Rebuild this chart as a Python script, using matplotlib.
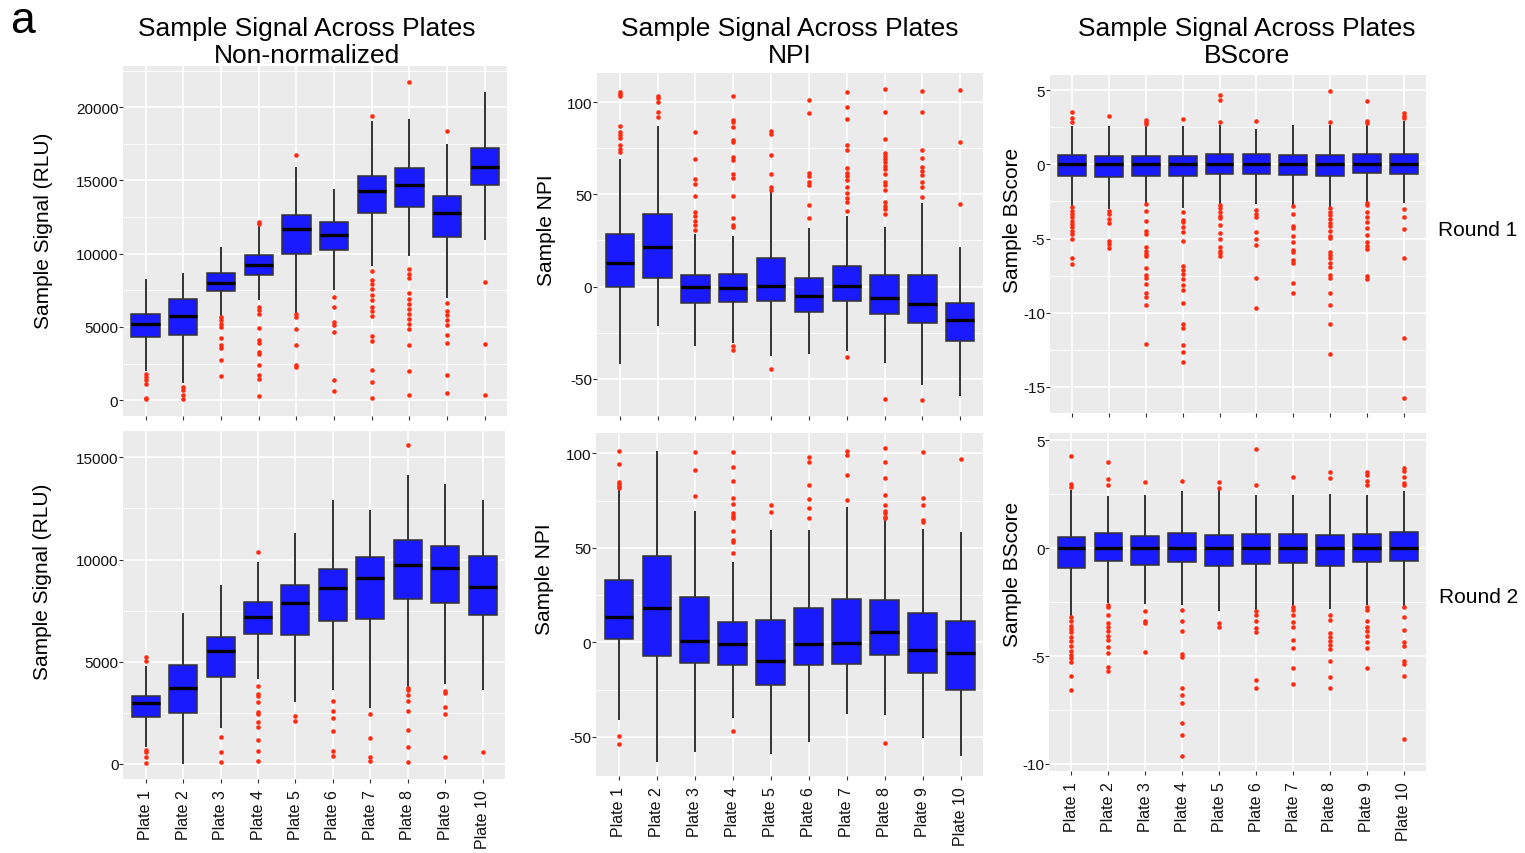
import matplotlib
matplotlib.use("Agg")
import matplotlib.pyplot as plt
from matplotlib.ticker import FixedLocator

plt.rcParams["font.family"] = ["Liberation Sans", "DejaVu Sans"]

PLATES = ["Plate 1", "Plate 2", "Plate 3", "Plate 4", "Plate 5",
          "Plate 6", "Plate 7", "Plate 8", "Plate 9", "Plate 10"]

# ---------------- Round 1, non-normalized signal (RLU) ----------------
RAW1_LO = [2050, 1250, 5800, 6900, 6000, 7600, 9200, 9900, 7050, 11000]
RAW1_Q1 = [4320, 4480, 7480, 8520, 10000, 10270, 12770, 13160, 11160, 14700]
RAW1_MED = [5180, 5750, 8020, 9200, 11660, 11250, 14250, 14700, 12800, 15890]
RAW1_Q3 = [5910, 6930, 8680, 9890, 12660, 12140, 15320, 15860, 13930, 17230]
RAW1_HI = [8230, 8640, 10390, 11820, 15840, 14320, 18980, 19140, 17430, 20950]
RAW1_OUT = [
    [1820, 1590, 1360, 1140, 160, 70],
    [910, 680, 340, 110],
    [5680, 5450, 5230, 5000, 4250, 3800, 3570, 2770, 1640],
    [12160, 12000, 6360, 6140, 5910, 4930, 4090, 3910, 3300, 3140, 2430, 1750, 1480, 300],
    [16730, 5910, 5680, 4890, 3750, 2430, 2270],
    [7050, 6360, 5340, 5110, 4660, 1360, 640],
    [19410, 8800, 8180, 7950, 7610, 7160, 6820, 6360, 6070, 5730, 4390, 4020, 2050, 1250, 180],
    [21700, 8980, 8640, 8340, 7320, 6890, 6590, 6200, 5910, 5570, 5230, 4840, 3750, 1980, 390],
    [18390, 6660, 6090, 5800, 5450, 5110, 4430, 3910, 1700, 500],
    [8070, 3860, 340],
]

# ---------------- Round 1, NPI ----------------
NPI1_LO = [-41.4, -20.8, -31.6, -30.2, -37.1, -36.0, -34.7, -40.7, -52.8, -58.8]
NPI1_Q1 = [0.0, 4.9, -9.0, -8.5, -8.1, -13.9, -7.8, -15.0, -19.7, -29.3]
NPI1_MED = [12.8, 21.7, -0.5, -0.9, 0.5, -5.1, 0.2, -6.0, -9.4, -18.1]
NPI1_Q3 = [28.6, 39.4, 6.3, 6.9, 15.4, 4.5, 11.0, 6.3, 6.0, -8.9]
NPI1_HI = [68.9, 86.8, 28.0, 27.1, 51.2, 31.3, 37.6, 31.6, 44.7, 20.8]
NPI1_OUT = [
    [105.4, 104.5, 103.3, 87.3, 83.7, 82.3, 80.5, 76.9, 74.7, 72.9],
    [103.6, 102.2, 100.4, 94.9, 91.9],
    [83.7, 69.3, 58.4, 55.7, 49.4, 40.7, 38.5, 35.8, 33.5, 30.9],
    [103.3, 90.4, 89.2, 86.4, 79.6, 78.7, 70.2, 68.7, 61.1, 58.8, 49.4, 37.3, 33.6, 32.2,
     -32.4, -34.7],
    [84.6, 82.8, 71.6, 61.1, 53.9, 52.4, -44.7],
    [101.4, 94.2, 61.5, 60.2, 57.0, 55.2, 44.3, 37.4],
    [105.4, 97.3, 91.0, 76.9, 74.3, 64.2, 61.7, 60.2, 58.0, 53.9, 50.8, 47.9, 45.8, 41.2,
     -38.3],
    [107.2, 94.6, 80.1, 72.5, 71.1, 69.3, 67.5, 65.3, 63.8, 61.1, 57.0, 55.2, 52.4, 45.8,
     43.9, 42.1, 39.4, -60.9],
    [106.3, 94.9, 74.3, 69.6, 65.1, 62.9, 60.6, 57.0, 53.9, 48.5, -61.5],
    [106.9, 78.3, 44.7],
]

# ---------------- Round 1, BScore ----------------
BS1_LO = [-2.79, -2.97, -2.61, -2.85, -2.61, -2.63, -2.74, -2.85, -2.52, -2.56]
BS1_Q1 = [-0.76, -0.83, -0.76, -0.79, -0.65, -0.67, -0.72, -0.76, -0.61, -0.67]
BS1_MED = [0.0, 0.0, 0.0, 0.0, 0.0, 0.0, 0.0, 0.0, 0.0, 0.0]
BS1_Q3 = [0.63, 0.58, 0.54, 0.58, 0.67, 0.67, 0.63, 0.63, 0.72, 0.72]
BS1_HI = [2.54, 2.54, 2.60, 2.54, 2.60, 2.31, 2.60, 2.60, 2.60, 2.83]
BS1_OUT = [
    [3.55, 3.10, 2.88, -2.90, -3.12, -3.35, -3.57, -3.80, -4.02, -4.25, -4.47, -4.70,
     -5.03, -6.31, -6.72],
    [3.28, -3.12, -3.35, -3.69, -3.96, -5.15, -5.37, -5.64],
    [3.00, 2.85, 2.70, -2.67, -3.12, -3.80, -4.47, -4.70, -5.60, -5.82, -6.04, -6.20,
     -7.01, -7.46, -7.69, -8.07, -8.70, -8.92, -9.46, -12.13],
    [3.06, -3.24, -3.73, -3.91, -4.25, -4.54, -5.19, -6.83, -7.12, -7.39, -7.73, -8.13,
     -8.45, -9.37, -10.76, -11.03, -12.16, -12.67, -13.35],
    [4.67, 4.34, 2.88, -2.72, -2.94, -3.24, -3.46, -3.64, -4.07, -4.63, -5.03, -5.60,
     -5.82, -6.00, -6.20],
    [2.92, -3.08, -3.35, -3.57, -4.58, -5.03, -5.44, -7.66, -9.66],
    [-2.83, -3.35, -4.13, -4.31, -4.81, -5.26, -5.75, -5.93, -6.45, -6.65, -8.02, -8.70],
    [4.94, 2.88, -2.97, -3.19, -3.42, -3.69, -3.96, -4.13, -4.47, -4.81, -4.97, -5.89,
     -6.11, -6.34, -6.65, -6.94, -7.46, -7.69, -8.70, -9.48, -10.76, -12.81],
    [4.25, 2.94, 2.79, -2.61, -2.72, -3.19, -3.53, -3.87, -4.29, -4.74, -5.26, -5.48,
     -5.71, -7.55, -7.73],
    [3.46, 3.28, 3.15, -3.01, -3.57, -4.36, -6.34, -11.71, -15.75],
]

# ---------------- Round 2, non-normalized signal (RLU) ----------------
RAW2_LO = [900, 30, 1830, 4210, 3070, 3670, 2800, 3830, 3980, 3670]
RAW2_Q1 = [2320, 2510, 4270, 6360, 6330, 7010, 7090, 8090, 7860, 7290]
RAW2_MED = [2970, 3720, 5540, 7210, 7860, 8590, 9100, 9730, 9590, 8670]
RAW2_Q3 = [3340, 4860, 6230, 7920, 8760, 9540, 10110, 10970, 10660, 10170]
RAW2_HI = [4730, 7340, 8720, 9820, 11250, 12880, 12390, 14100, 13660, 12880]
RAW2_OUT = [
    [5220, 5060, 690, 570, 330, 30],
    [],
    [1340, 570, 80],
    [10370, 3830, 3420, 3340, 3020, 2530, 2450, 2040, 1830, 1170, 650, 130],
    [2330, 2090],
    [3070, 2610, 2230, 1600, 650, 410],
    [2450, 1270, 360, 160],
    [15620, 3720, 3620, 3390, 3070, 2580, 1660, 850, 110],
    [3590, 3490, 2770, 2450, 330],
    [570],
]

# ---------------- Round 2, NPI ----------------
NPI2_LO = [-40.6, -63.0, -57.7, -39.4, -58.8, -52.1, -37.2, -37.9, -49.9, -59.5]
NPI2_Q1 = [1.8, -7.1, -11.1, -11.8, -22.6, -12.2, -11.5, -6.5, -16.1, -25.1]
NPI2_MED = [13.6, 18.2, 0.7, -1.1, -9.9, -0.7, -0.4, 5.5, -4.1, -5.8]
NPI2_Q3 = [33.2, 45.5, 24.2, 10.6, 11.8, 18.2, 22.8, 22.4, 15.5, 11.5]
NPI2_HI = [79.9, 100.6, 69.2, 42.0, 59.1, 58.8, 71.1, 65.6, 59.6, 57.9]
NPI2_OUT = [
    [101.5, 94.4, 84.7, 83.8, 82.6, 81.5, -49.8, -53.8],
    [],
    [100.6, 91.4, 77.6],
    [100.6, 93.0, 85.6, 76.4, 73.2, 68.3, 67.1, 65.8, 58.8, 54.2, 53.3, 47.3, -47.1],
    [72.9, 69.2],
    [98.3, 95.3, 83.5, 75.9, 71.1, 65.8],
    [101.5, 99.2, 88.8, 75.3],
    [102.7, 95.3, 87.0, 78.0, 72.9, 69.7, 68.3, 66.5, 65.8, -53.1],
    [100.6, 76.4, 72.9, 64.8, 63.5],
    [97.1],
]

# ---------------- Round 2, BScore ----------------
BS2_LO = [-3.12, -2.50, -2.55, -2.58, -2.86, -2.81, -2.66, -2.77, -2.58, -2.66]
BS2_Q1 = [-0.93, -0.60, -0.77, -0.65, -0.80, -0.73, -0.70, -0.80, -0.65, -0.57]
BS2_MED = [0.0, 0.0, 0.0, 0.0, 0.0, 0.0, 0.0, 0.0, 0.0, 0.0]
BS2_Q3 = [0.51, 0.71, 0.57, 0.70, 0.63, 0.66, 0.68, 0.63, 0.68, 0.74]
BS2_HI = [2.67, 2.36, 2.44, 2.63, 2.75, 2.40, 2.40, 2.47, 2.44, 2.63]
BS2_OUT = [
    [4.30, 2.98, 2.86, -3.20, -3.35, -3.59, -3.74, -3.90, -4.13, -4.31, -4.51, -4.78,
     -4.94, -5.09, -5.25, -5.90, -6.55],
    [3.99, 3.21, 2.91, -2.61, -2.74, -3.08, -3.48, -3.66, -3.85, -4.05, -4.25, -4.59,
     -4.87, -5.52, -5.67],
    [3.06, -2.92, -3.35, -3.48, -4.82],
    [3.14, -2.86, -3.35, -3.82, -4.90, -5.05, -6.48, -6.79, -7.19, -8.11, -8.66, -9.61],
    [3.06, 2.80, -3.48, -3.66],
    [4.61, 2.95, -2.89, -3.08, -3.35, -3.69, -3.90, -6.09, -6.49],
    [3.29, -2.74, -2.86, -3.08, -3.43, -3.66, -4.25, -4.64, -5.55, -6.29],
    [3.52, 3.26, -3.08, -3.32, -3.94, -4.10, -4.28, -4.47, -4.67, -5.21, -5.95, -6.48],
    [3.52, 3.40, 3.14, 2.91, -2.70, -2.86, -3.38, -3.63, -3.85, -4.05, -4.36, -4.62,
     -5.56],
    [3.71, 3.60, 3.29, 3.01, 2.91, -2.74, -3.17, -3.79, -4.36, -4.51, -5.24, -5.36,
     -5.90, -8.86],
]

W, H = 1525, 854
fig = plt.figure(figsize=(W / 100, H / 100), dpi=100)

BOX_FILL = "#1a1aff"
EDGE = "#333333"
OUTLIER = "#ff2a12"
PANEL_BG = "#ebebeb"
TEXT = "#111111"


def px_rect(left, top, right, bottom):
    return [left / W, 1 - bottom / H, (right - left) / W, (bottom - top) / H]


def draw_panel(rect, lo, q1, med, q3, hi, out, ylim, yticks, ylabel, label_xy,
               show_xlabels):
    ax = fig.add_axes(px_rect(*rect))
    positions = list(range(1, len(PLATES) + 1))
    stats = []
    for i in range(len(PLATES)):
        stats.append({"whislo": lo[i], "q1": q1[i], "med": med[i], "q3": q3[i],
                      "whishi": hi[i], "fliers": out[i]})
    ax.bxp(stats, positions=positions, widths=0.75, patch_artist=True,
           showcaps=False, showfliers=True,
           boxprops=dict(facecolor=BOX_FILL, edgecolor=EDGE, linewidth=1.1),
           medianprops=dict(color="black", linewidth=2.4, solid_capstyle="butt"),
           whiskerprops=dict(color=EDGE, linewidth=1.4),
           flierprops=dict(marker="o", markersize=3.3, markerfacecolor=OUTLIER,
                           markeredgewidth=0, linestyle="none"))
    ax.set_xlim(0.4, len(PLATES) + 0.6)
    ax.set_ylim(*ylim)
    ax.set_facecolor(PANEL_BG)
    for s in ax.spines.values():
        s.set_visible(False)

    ax.set_xticks(positions)
    if show_xlabels:
        ax.set_xticklabels(PLATES, rotation=90, ha="center", va="top",
                           fontsize=11.5, color=TEXT)
    else:
        ax.set_xticklabels([])
    ax.set_yticks(yticks)
    ax.set_yticklabels([str(v) for v in yticks], fontsize=11, color=TEXT)
    step = yticks[1] - yticks[0]
    minors = [yticks[0] - step / 2] + [v + step / 2 for v in yticks]
    ax.yaxis.set_minor_locator(FixedLocator(minors))

    ax.tick_params(axis="y", which="major", length=2.6, width=0.8, color=EDGE, pad=0.8)
    ax.tick_params(axis="x", which="major", length=2.6, width=0.8, color=EDGE, pad=4.5)
    ax.tick_params(which="minor", length=0)
    ax.set_axisbelow(True)
    ax.grid(which="major", color="white", linewidth=1.2)
    ax.grid(which="minor", axis="y", color="white", linewidth=0.6)

    # label centre given in pixels, converted to axes fractions
    lx, ly = label_xy
    ax.set_ylabel(ylabel, fontsize=15, color="black", va="center")
    ax.yaxis.set_label_coords((lx - rect[0]) / (rect[2] - rect[0]),
                              (rect[3] - ly) / (rect[3] - rect[1]))
    return ax


draw_panel((123, 67, 507.5, 416.5), RAW1_LO, RAW1_Q1, RAW1_MED, RAW1_Q3, RAW1_HI,
           RAW1_OUT, (-1043, 22815), [0, 5000, 10000, 15000, 20000],
           "Sample Signal (RLU)", (43, 231), False)
draw_panel((597, 74, 983, 416.5), NPI1_LO, NPI1_Q1, NPI1_MED, NPI1_Q3, NPI1_HI,
           NPI1_OUT, (-70, 115.9), [-50, 0, 50, 100], "Sample NPI", (547, 230), False)
draw_panel((1050, 76, 1426, 414), BS1_LO, BS1_Q1, BS1_MED, BS1_Q3, BS1_HI,
           BS1_OUT, (-16.76, 6.02), [-15, -10, -5, 0, 5], "Sample BScore",
           (1012, 220), False)
draw_panel((123.3, 431.7, 505, 780), RAW2_LO, RAW2_Q1, RAW2_MED, RAW2_Q3, RAW2_HI,
           RAW2_OUT, (-734, 16305), [0, 5000, 10000, 15000],
           "Sample Signal (RLU)", (43, 582), True)
draw_panel((596, 434, 983.3, 777.3), NPI2_LO, NPI2_Q1, NPI2_MED, NPI2_Q3, NPI2_HI,
           NPI2_OUT, (-70.9, 110.8), [-50, 0, 50, 100], "Sample NPI", (545, 579), True)
draw_panel((1049.3, 434.3, 1426, 772.3), BS2_LO, BS2_Q1, BS2_MED, BS2_Q3, BS2_HI,
           BS2_OUT, (-10.34, 5.33), [-10, -5, 0, 5], "Sample BScore", (1012, 574), True)

# Column titles
for cx, sub in [(306.5, "Non-normalized"), (790, "NPI"), (1247, "BScore")]:
    fig.text(cx / W, 1 - 36 / H, "Sample Signal Across Plates", ha="center",
             va="baseline", fontsize=19, color="black")
    fig.text(cx / W, 1 - 63 / H, sub, ha="center", va="baseline", fontsize=19,
             color="black")

# Row labels and panel letter
fig.text(1438 / W, 1 - 230 / H, "Round 1", ha="left", va="center", fontsize=15)
fig.text(1439 / W, 1 - 598 / H, "Round 2", ha="left", va="center", fontsize=15)
fig.text(10 / W, 1 - 33 / H, "a", ha="left", va="baseline", fontsize=32)

fig.savefig("out.png", dpi=100, facecolor="white")
